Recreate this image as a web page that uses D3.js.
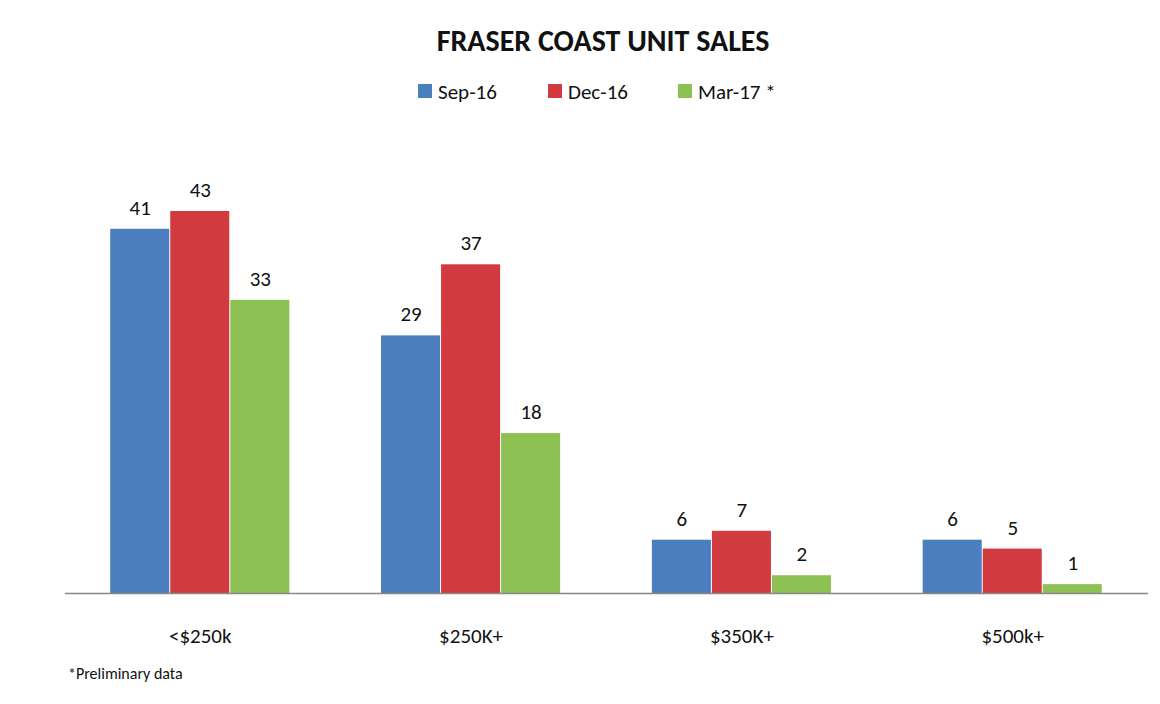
<!DOCTYPE html><html><head><meta charset="utf-8"><script src="https://cdn.jsdelivr.net/npm/d3@7"></script>
<style>body{margin:0;background:#fff}text{font-family:Calibri,Carlito,"Open Sans",sans-serif;fill:#111}</style></head><body><svg id="c" width="1160" height="704"></svg><script>
const categories=["<$250k","$250K+","$350K+","$500k+"];
const seriesNames=["Sep-16","Dec-16","Mar-17 *"];
const sep16=[41,29,6,6];
const dec16=[43,37,7,5];
const mar17=[33,18,2,1];
const colors=["#4a7ebf","#d13b40","#8dc153"];
const series=[sep16,dec16,mar17];
const svg=d3.select("#c");
const x=d3.scaleBand().domain(categories).range([65,1148]).paddingInner(0.335).paddingOuter(0.167);
const xi=d3.scaleBand().domain(d3.range(3)).range([0,x.bandwidth()]);
const y=d3.scaleLinear().domain([0,43]).range([593,211]);
svg.append("text").attr("x",603).attr("y",51).attr("text-anchor","middle").style("font-size","30px").style("font-weight","bold").text("FRASER COAST UNIT SALES");
const lg=[[418,"Sep-16"],[548,"Dec-16"],[678,"Mar-17 *"]];
lg.forEach((l,i)=>{svg.append("rect").attr("x",l[0]).attr("y",84).attr("width",14).attr("height",14).attr("fill",colors[i]);
svg.append("text").attr("x",l[0]+20).attr("y",99).style("font-size","21px").text(seriesNames[i]);});
series.forEach((s,i)=>{const g=svg.append("g");
g.selectAll("rect").data(s).join("rect").attr("x",(d,j)=>x(categories[j])+xi(i)).attr("width",xi.bandwidth()-1).attr("y",d=>y(d)).attr("height",d=>593-y(d)).attr("fill",colors[i]);
g.selectAll("text").data(s).join("text").attr("x",(d,j)=>x(categories[j])+xi(i)+xi.bandwidth()/2).attr("y",d=>y(d)-14).attr("text-anchor","middle").style("font-size","21px").text(d=>d);});
svg.append("line").attr("x1",65).attr("x2",1148).attr("y1",593.5).attr("y2",593.5).attr("stroke","#888").attr("stroke-width",1.5);
svg.append("g").selectAll("text").data(categories).join("text").attr("x",d=>x(d)+x.bandwidth()/2).attr("y",643).attr("text-anchor","middle").style("font-size","21px").text(d=>d);
svg.append("text").attr("x",68).attr("y",679).style("font-size","16px").text("*Preliminary data");
</script></body></html>
